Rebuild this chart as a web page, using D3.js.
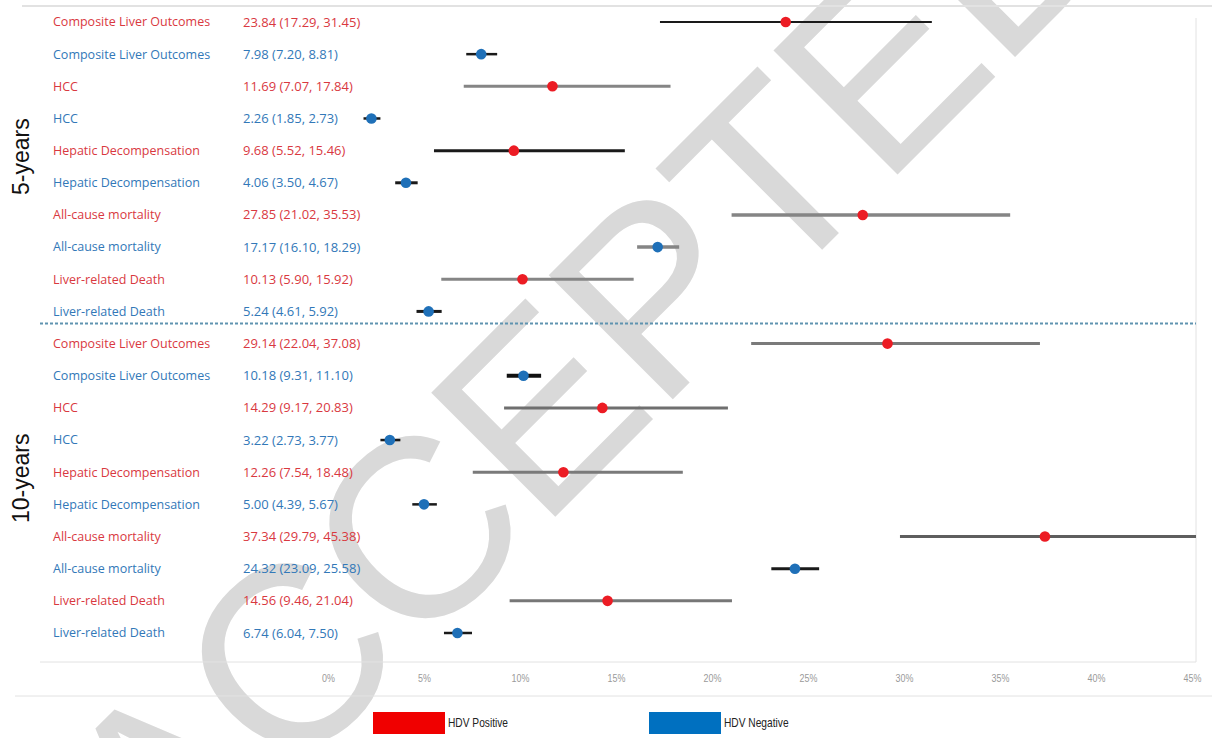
<!DOCTYPE html>
<html>
<head>
<meta charset="utf-8">
<script src="https://cdn.jsdelivr.net/npm/d3@7"></script>
<style>
  body { margin: 0; background: #fff; }
  svg { display: block; }
</style>
</head>
<body>
<svg id="chart" width="1212" height="738"></svg>
<script>
// Cumulative incidence (%) with 95% CI, by HDV status, at 5 and 10 years
const periods = ["5-years", "10-years"];
const outcomes = [
  "Composite Liver Outcomes", "Composite Liver Outcomes",
  "HCC", "HCC",
  "Hepatic Decompensation", "Hepatic Decompensation",
  "All-cause mortality", "All-cause mortality",
  "Liver-related Death", "Liver-related Death",
  "Composite Liver Outcomes", "Composite Liver Outcomes",
  "HCC", "HCC",
  "Hepatic Decompensation", "Hepatic Decompensation",
  "All-cause mortality", "All-cause mortality",
  "Liver-related Death", "Liver-related Death"
];
const groups = ["HDV Positive", "HDV Negative"];
const rowGroup = [0,1,0,1,0,1,0,1,0,1, 0,1,0,1,0,1,0,1,0,1];
const rowPeriod = [0,0,0,0,0,0,0,0,0,0, 1,1,1,1,1,1,1,1,1,1];
const estimate = [23.84, 7.98, 11.69, 2.26, 9.68, 4.06, 27.85, 17.17, 10.13, 5.24,
                  29.14, 10.18, 14.29, 3.22, 12.26, 5.00, 37.34, 24.32, 14.56, 6.74];
const lower    = [17.29, 7.20, 7.07, 1.85, 5.52, 3.50, 21.02, 16.10, 5.90, 4.61,
                  22.04, 9.31, 9.17, 2.73, 7.54, 4.39, 29.79, 23.09, 9.46, 6.04];
const upper    = [31.45, 8.81, 17.84, 2.73, 15.46, 4.67, 35.53, 18.29, 15.92, 5.92,
                  37.08, 11.10, 20.83, 3.77, 18.48, 5.67, 45.38, 25.58, 21.04, 7.50];
const xTicks = [0, 5, 10, 15, 20, 25, 30, 35, 40, 45];

// Styling
const dotColor = ["#ec1c24", "#1f70b8"];
const textColor = ["#d9393f", "#3278b8"];
const legendColor = ["#f00000", "#0070c0"];
const whiskerTone = ["#1a1a1a","#1a1a1a","#858585","#1a1a1a","#1a1a1a","#1a1a1a","#858585","#858585","#858585","#1a1a1a",
                     "#7a7a7a","#111111","#6f6f6f","#1a1a1a","#7a7a7a","#1a1a1a","#5e5e5e","#1a1a1a","#777777","#1a1a1a"];
const whiskerWidth = [2,2.5,3,2.5,3,3,3.5,3.5,3,3, 3,4,3,2.5,3,2.5,3,3,3,2.5];

const svg = d3.select("#chart");
const W = 1212, H = 738;
const panel = { left: 40, right: 1196, top: 6, bottom: 662 };
const narrowFont = "'Liberation Sans Narrow', 'Arial Narrow', 'Liberation Sans', sans-serif";

const x = d3.scaleLinear().domain([0, 45]).range([328, 1192]);
const y = d3.scalePoint().domain(d3.range(estimate.length)).range([22, 633]);

svg.append("rect").attr("width", W).attr("height", H).attr("fill", "#fff");

// Watermark
svg.append("text")
  .attr("transform", "translate(648,424) rotate(-45)")
  .attr("text-anchor", "middle")
  .attr("font-family", "'Liberation Sans', Arial, sans-serif")
  .attr("font-size", 255)
  .attr("letter-spacing", -4)
  .attr("fill", "#d9d9d9")
  .text("ACCEPTED");

// Panel frame
const frame = svg.append("g").attr("fill", "none").attr("stroke", "#e2e2e2");
frame.append("line").attr("x1", 22).attr("x2", W).attr("y1", panel.top).attr("y2", panel.top).attr("stroke-width", 2);
frame.append("line").attr("x1", panel.right).attr("x2", panel.right).attr("y1", 18).attr("y2", panel.bottom);
frame.append("line").attr("x1", panel.left).attr("x2", panel.right).attr("y1", panel.bottom).attr("y2", panel.bottom);
frame.append("line").attr("x1", 15).attr("x2", W).attr("y1", 696).attr("y2", 696);

// Separator between periods
const sepY = y(9) + y.step() * 0.375;
svg.append("line")
  .attr("x1", panel.left).attr("x2", panel.right)
  .attr("y1", sepY).attr("y2", sepY)
  .attr("stroke", "#5f93b0").attr("stroke-width", 2)
  .attr("stroke-dasharray", "3,2");

// Row labels
const labelFont = "'Open Sans', 'Noto Sans', sans-serif";
const rows = svg.append("g");
rows.selectAll("text.outcome").data(outcomes).join("text")
  .attr("class", "outcome")
  .attr("x", 53).attr("y", (d, i) => y(i)).attr("dy", "0.35em")
  .attr("font-family", labelFont).attr("font-size", 12.5)
  .attr("fill", (d, i) => textColor[rowGroup[i]])
  .text(d => d);
rows.selectAll("text.value").data(estimate).join("text")
  .attr("class", "value")
  .attr("x", 243).attr("y", (d, i) => y(i)).attr("dy", "0.35em")
  .attr("font-family", labelFont).attr("font-size", 13)
  .attr("fill", (d, i) => textColor[rowGroup[i]])
  .text((d, i) => `${d.toFixed(2)} (${lower[i].toFixed(2)}, ${upper[i].toFixed(2)})`);

// Period labels
periods.forEach((p, k) => {
  const idx = d3.range(estimate.length).filter(i => rowPeriod[i] === k);
  const cy = (y(idx[0]) + y(idx[idx.length - 1])) / 2 - 10;
  svg.append("text")
    .attr("transform", `translate(29,${cy}) rotate(-90)`)
    .attr("text-anchor", "middle")
    .attr("font-family", "'Liberation Sans', Arial, sans-serif")
    .attr("font-size", 23).attr("fill", "#111")
    .text(p);
});

// Intervals and estimates
svg.append("clipPath").attr("id", "plotClip")
  .append("rect").attr("x", panel.left).attr("y", panel.top).attr("width", panel.right - panel.left).attr("height", panel.bottom - panel.top);
const marks = svg.append("g").attr("clip-path", "url(#plotClip)");
marks.selectAll("line.ci").data(estimate).join("line")
  .attr("class", "ci")
  .attr("x1", (d, i) => x(lower[i])).attr("x2", (d, i) => x(upper[i]))
  .attr("y1", (d, i) => y(i)).attr("y2", (d, i) => y(i))
  .attr("stroke", (d, i) => whiskerTone[i])
  .attr("stroke-width", (d, i) => whiskerWidth[i]);
marks.selectAll("circle.est").data(estimate).join("circle")
  .attr("class", "est")
  .attr("cx", d => x(d)).attr("cy", (d, i) => y(i))
  .attr("r", 5.3)
  .attr("fill", (d, i) => dotColor[rowGroup[i]]);

// x axis
const axis = svg.append("g")
  .attr("transform", `translate(0,${panel.bottom})`)
  .call(d3.axisBottom(x).tickValues(xTicks).tickFormat(d => d + "%").tickSize(0).tickPadding(13));
axis.select(".domain").remove();
axis.selectAll("text")
  .attr("font-family", narrowFont)
  .attr("font-size", 10.5).attr("fill", "#9a9a9a")
  .attr("transform", "scale(0.85,1)");

// Legend
const legend = svg.append("g").attr("transform", "translate(373,712)");
groups.forEach((g, k) => {
  const item = legend.append("g").attr("transform", `translate(${k * 276},0)`);
  item.append("rect").attr("width", 72).attr("height", 22).attr("fill", legendColor[k]);
  item.append("text")
    .attr("transform", "translate(75,11) scale(0.85,1)")
    .attr("dy", "0.35em")
    .attr("font-family", narrowFont)
    .attr("font-size", 12).attr("fill", "#222")
    .text(g);
});
</script>
</body>
</html>
